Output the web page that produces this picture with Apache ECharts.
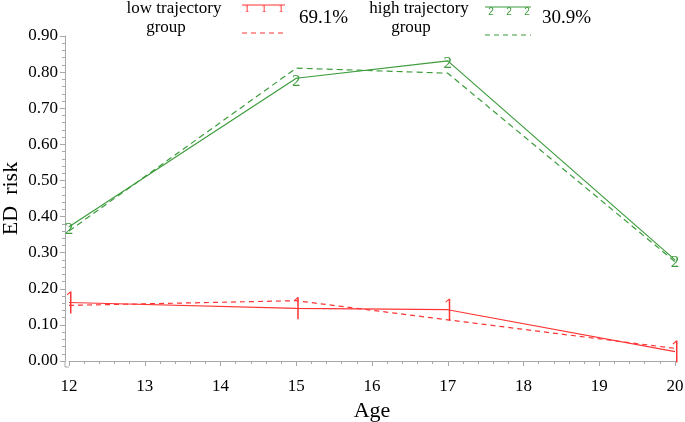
<!DOCTYPE html>
<html>
<head>
<meta charset="utf-8">
<script src="https://cdn.jsdelivr.net/npm/echarts@6/dist/echarts.min.js"></script>
<style>
  html, body { margin: 0; padding: 0; background: #fff; }
  #chart { width: 685px; height: 422px; }
</style>
</head>
<body>
<div id="chart"></div>
<script>
// ---- data ----
const ages = [12, 15, 17, 20];
const lowObserved = [0.162, 0.146, 0.142, 0.026];
const lowPredicted = [0.154, 0.167, 0.114, 0.035];
const highObserved = [0.372, 0.783, 0.831, 0.280];
const highPredicted = [0.360, 0.811, 0.797, 0.275];
const groupLines = [['low trajectory', 'group'], ['high trajectory', 'group']];
const groupShares = ['69.1%', '30.9%'];

const RED = '#ff3535';
const GREEN = '#3c9c3c';
const AXIS = '#a8a8a8';
const SERIF = 'Liberation Serif';
const SANS = 'Liberation Sans';

const pair = (vals) => ages.map((a, i) => [a, vals[i]]);
const onePath = 'path://M3,0 L4.2,0 L4.2,22 L3,22 Z M3,0 L3.6,0.9 L0.8,3.8 L0.2,3.2 Z';

function txt(text, x, y, size, family, color, align) {
  return { type: 'text', silent: true, x: x, y: y,
    style: { text: text, align: align || 'center', verticalAlign: 'middle',
      fontSize: size, fontFamily: family, fill: color } };
}

const chart = echarts.init(document.getElementById('chart'), null, { renderer: 'canvas' });

const option = {
  animation: false,
  backgroundColor: '#fff',
  textStyle: { fontFamily: SERIF },
  grid: { left: 69, right: 10, top: 36, bottom: 61, containLabel: false, outerBoundsMode: 'none' },
  xAxis: {
    type: 'value', min: 12, max: 20, interval: 1, offset: 6,
    name: 'Age', nameLocation: 'middle', nameGap: 33, nameMoveOverlap: false,
    nameTextStyle: { fontFamily: SERIF, fontSize: 22, color: '#000' },
    axisLine: { show: true, lineStyle: { color: AXIS, width: 1 } },
    axisTick: { show: true, length: 5, lineStyle: { color: AXIS } },
    minorTick: { show: true, splitNumber: 5, length: 3, lineStyle: { color: AXIS } },
    splitLine: { show: false },
    axisLabel: { fontFamily: SERIF, fontSize: 17, color: '#000', margin: 11 }
  },
  yAxis: {
    type: 'value', min: 0, max: 0.9, interval: 0.1, offset: 4,
    name: 'ED  risk', nameLocation: 'middle', nameGap: 43, nameRotate: 90, nameMoveOverlap: false,
    nameTextStyle: { fontFamily: SERIF, fontSize: 22, color: '#000' },
    axisLine: { show: true, lineStyle: { color: AXIS, width: 1 } },
    axisTick: { show: true, length: 5, lineStyle: { color: AXIS } },
    minorTick: { show: true, splitNumber: 5, length: 3, lineStyle: { color: AXIS } },
    splitLine: { show: false },
    axisLabel: { fontFamily: SERIF, fontSize: 17, color: '#000', margin: 7,
      formatter: (v) => v.toFixed(2) }
  },
  series: [
    {
      name: 'low observed', type: 'line', data: pair(lowObserved),
      lineStyle: { color: RED, width: 1.2 },
      itemStyle: { color: RED },
      symbol: onePath, symbolSize: [5, 22], showSymbol: true,
      emphasis: { disabled: true }, silent: true, z: 3
    },
    {
      name: 'low predicted', type: 'line', data: pair(lowPredicted),
      lineStyle: { color: RED, width: 1.2, type: [5, 4] },
      symbol: 'none', emphasis: { disabled: true }, silent: true, z: 2
    },
    {
      name: 'high observed', type: 'line', data: pair(highObserved),
      lineStyle: { color: GREEN, width: 1.2 },
      itemStyle: { color: GREEN },
      symbol: 'circle', symbolSize: 1, showSymbol: true,
      label: { show: true, position: 'inside', formatter: '2', offset: [0, 3],
        color: GREEN, fontSize: 17, fontFamily: 'Liberation Sans Narrow' },
      emphasis: { disabled: true }, silent: true, z: 3
    },
    {
      name: 'high predicted', type: 'line', data: pair(highPredicted),
      lineStyle: { color: GREEN, width: 1.2, type: [6, 4] },
      symbol: 'none', emphasis: { disabled: true }, silent: true, z: 2
    }
  ],
  graphic: [
    { type: 'polyline', silent: true, shape: { points: [[65, 361], [65, 367], [69, 367]] },
      style: { stroke: AXIS, lineWidth: 1, fill: null } },
    // legend: low trajectory group
    txt(groupLines[0][0], 174, 9, 17, SERIF, '#000'),
    txt(groupLines[0][1], 166, 28, 17, SERIF, '#000'),
    { type: 'line', silent: true, shape: { x1: 242, y1: 5, x2: 285, y2: 5 },
      style: { stroke: RED, lineWidth: 1.2 } },
    txt('1', 247, 9, 11, SERIF, RED),
    txt('1', 264, 9, 11, SERIF, RED),
    txt('1', 281, 9, 11, SERIF, RED),
    { type: 'line', silent: true, shape: { x1: 242, y1: 33, x2: 285, y2: 33 },
      style: { stroke: RED, lineWidth: 1.2, lineDash: [5, 4] } },
    txt(groupShares[0], 299, 18, 19, SERIF, '#000', 'left'),
    // legend: high trajectory group
    txt(groupLines[1][0], 419, 9, 17, SERIF, '#000'),
    txt(groupLines[1][1], 411, 28, 17, SERIF, '#000'),
    { type: 'line', silent: true, shape: { x1: 485, y1: 7, x2: 531, y2: 7 },
      style: { stroke: GREEN, lineWidth: 1.2 } },
    txt('2', 491, 12, 10, SANS, GREEN),
    txt('2', 509, 12, 10, SANS, GREEN),
    txt('2', 527, 12, 10, SANS, GREEN),
    { type: 'line', silent: true, shape: { x1: 485, y1: 35, x2: 531, y2: 35 },
      style: { stroke: GREEN, lineWidth: 1.2, lineDash: [5, 4] } },
    txt(groupShares[1], 542, 18, 19, SERIF, '#000', 'left')
  ]
};
chart.setOption(option);
</script>
</body>
</html>
